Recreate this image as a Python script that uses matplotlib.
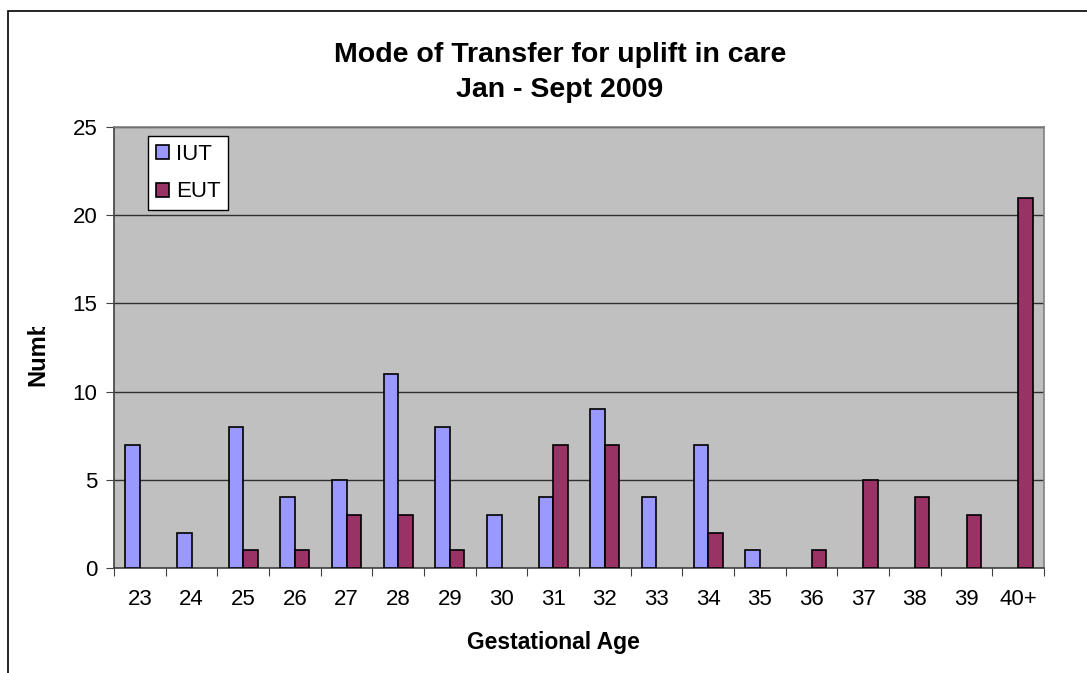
import matplotlib
matplotlib.use("Agg")
import matplotlib.pyplot as plt
import numpy as np
from matplotlib.patches import Rectangle
from matplotlib.transforms import Bbox

categories = ["23", "24", "25", "26", "27", "28", "29", "30", "31", "32",
              "33", "34", "35", "36", "37", "38", "39", "40+"]
iut = [7, 2, 8, 4, 5, 11, 8, 3, 4, 9, 4, 7, 1, 0, 0, 0, 0, 0]
eut = [0, 0, 1, 1, 3, 3, 1, 0, 7, 7, 0, 2, 0, 1, 5, 4, 3, 21]
yticks = [0, 5, 10, 15, 20, 25]

plt.rcParams['font.family'] = ['Liberation Sans', 'DejaVu Sans']

W, H = 1087, 673
fig = plt.figure(figsize=(W / 100, H / 100), dpi=100)
fig.patch.set_facecolor('white')

# outer chart border
fig.patches.append(Rectangle((8 / W, -0.1), 1.2, 1 - 11 / H + 0.1, transform=fig.transFigure,
                             fill=False, edgecolor='black', linewidth=1.2))

ax = fig.add_axes([114 / W, 1 - 568 / H, (1044 - 114) / W, (568 - 127) / H])
ax.set_facecolor('#C0C0C0')

x = np.arange(len(categories))
bw = 0.28
iut_arr = np.array(iut, dtype=float)
eut_arr = np.array(eut, dtype=float)
iut_m = np.where(iut_arr > 0, iut_arr, np.nan)
eut_m = np.where(eut_arr > 0, eut_arr, np.nan)
ax.bar(x - bw / 2, iut_m, width=bw, color='#9999FF', edgecolor='black', linewidth=1.2, label='IUT', zorder=3)
ax.bar(x + bw / 2, eut_m, width=bw, color='#993366', edgecolor='black', linewidth=1.2, label='EUT', zorder=3)

ax.set_xlim(-0.5, len(categories) - 0.5)
ax.set_ylim(0, 25)
ax.set_yticks(yticks)
ax.set_yticklabels([str(v) for v in yticks], fontsize=16)
ax.yaxis.grid(True, color='#303030', linewidth=1)
ax.set_axisbelow(True)

ax.set_xticks(np.arange(len(categories) + 1) - 0.5, minor=False)
ax.set_xticklabels([])
ax.set_xticks(x, minor=True)
ax.set_xticklabels(categories, minor=True, fontsize=16)
ax.tick_params(axis='x', which='minor', length=0, pad=15)
ax.tick_params(axis='x', which='major', length=6, direction='out', color='#404040')
ax.tick_params(axis='y', length=6, direction='out', color='#404040', pad=6)

ax.spines['top'].set_color('#808080')
ax.spines['right'].set_color('#808080')
ax.spines['left'].set_color('#404040')
ax.spines['bottom'].set_color('#404040')
for s in ax.spines.values():
    s.set_linewidth(1.2)

fig.text(560 / W, 1 - 55 / H, "Mode of Transfer for uplift in care", ha='center', va='center',
         fontsize=20.5, fontweight='bold')
fig.text(560 / W, 1 - 90 / H, "Jan - Sept 2009", ha='center', va='center',
         fontsize=20.5, fontweight='bold')

fig.text(553 / W, 1 - 643 / H, "Gestational Age", ha='center', va='center',
         fontsize=16.5, fontweight='bold')

yl = fig.text(38 / W, 1 - 386 / H, "Number", ha='center', va='bottom', rotation=90,
              fontsize=17, fontweight='bold')
yl.set_clip_box(Bbox.from_extents(0, H - 392, 80, H - 327))
yl.set_clip_on(True)

leg = ax.legend(loc='upper left', bbox_to_anchor=((148 - 114) / (1044 - 114), 1 - (136 - 127) / (568 - 127)),
                fontsize=16, frameon=True, fancybox=False, edgecolor='black', framealpha=1,
                borderpad=0.35, handlelength=0.6, handleheight=0.6, handletextpad=0.3,
                labelspacing=0.75, borderaxespad=0)
leg.get_frame().set_linewidth(1.0)

fig.savefig("out.png", dpi=100, facecolor='white')
